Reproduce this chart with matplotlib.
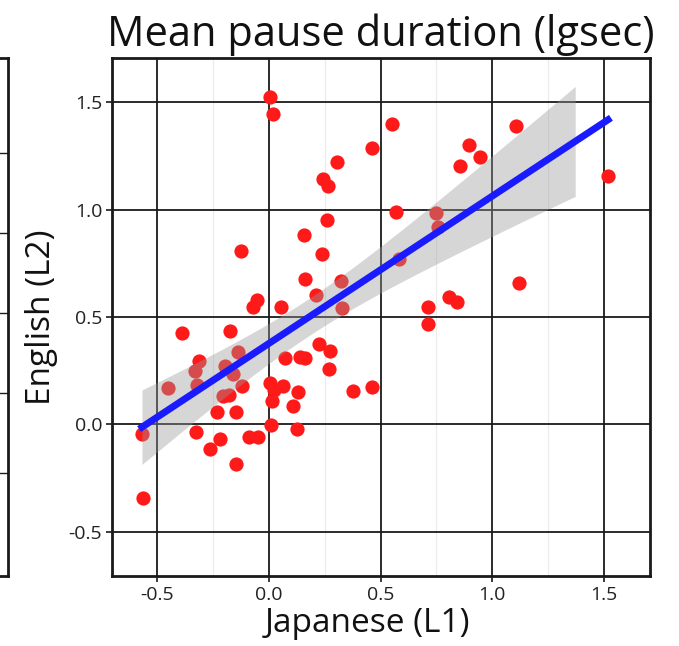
import numpy as np
import matplotlib
matplotlib.use("Agg")
import matplotlib.pyplot as plt
from matplotlib.ticker import MultipleLocator

plt.rcParams['font.family'] = ['Open Sans', 'DejaVu Sans']

# values: Japanese (L1) vs English (L2), lg seconds
japanese = [0.004, 0.020, 0.462, 0.303, 0.243, 0.266, 0.259, 0.155, -0.127, 0.236,
            0.161, 0.321, 0.213, 0.328, 0.054, -0.053, -0.072, 0.549, 1.105, 0.895,
            0.947, 0.855, 1.518, 0.568, 0.746, 0.755, 0.583, 1.120, 0.804, 0.843,
            0.711, 0.711, -0.390, -0.176, -0.139, -0.312, -0.331, -0.195, -0.160, -0.453,
            -0.323, -0.122, -0.205, -0.178, -0.230, -0.145, -0.568, -0.326, -0.219, -0.264,
            -0.145, -0.090, -0.048, -0.562, 0.004, 0.064, 0.022, 0.014, 0.010, 0.072,
            0.140, 0.162, 0.131, 0.106, 0.124, 0.226, 0.273, 0.269, 0.376, 0.463]
english = [1.525, 1.444, 1.287, 1.221, 1.143, 1.111, 0.951, 0.883, 0.808, 0.793,
           0.675, 0.666, 0.600, 0.542, 0.548, 0.580, 0.545, 1.398, 1.390, 1.300,
           1.246, 1.201, 1.156, 0.987, 0.982, 0.920, 0.770, 0.657, 0.594, 0.568,
           0.548, 0.466, 0.424, 0.433, 0.336, 0.297, 0.250, 0.270, 0.233, 0.170,
           0.185, 0.178, 0.133, 0.139, 0.057, 0.057, -0.043, -0.036, -0.066, -0.116,
           -0.186, -0.058, -0.058, -0.343, 0.192, 0.180, 0.160, 0.110, -0.003, 0.308,
           0.313, 0.308, 0.150, 0.088, -0.022, 0.376, 0.343, 0.258, 0.156, 0.175]
ticks = [-0.5, 0.0, 0.5, 1.0, 1.5]
tick_labels = ['-0.5', '0.0', '0.5', '1.0', '1.5']
band_xmax = 1.38  # the grey band stops short of the line in the picture

x = np.array(japanese)
y = np.array(english)

# linear fit and 95% confidence band
n = len(x)
slope, intercept = np.polyfit(x, y, 1)
resid = y - (intercept + slope * x)
s = np.sqrt(np.sum(resid ** 2) / (n - 2))
xm = x.mean()
sxx = np.sum((x - xm) ** 2)
xs = np.linspace(x.min(), x.max(), 200)
ys = intercept + slope * xs
se = s * np.sqrt(1.0 / n + (xs - xm) ** 2 / sxx)
keep = xs <= band_xmax

fig = plt.figure(figsize=(6.79, 6.46), dpi=100)
ax = fig.add_axes([0.165, 0.1084, 0.792, 0.8018])

ax.set_xlim(-0.702, 1.705)
ax.set_ylim(-0.705, 1.705)
ax.xaxis.set_minor_locator(MultipleLocator(0.25))
ax.set_axisbelow(True)
ax.grid(which='major', color='#1a1a1a', linewidth=1.3)
ax.grid(which='minor', axis='x', color='#ebebeb', linewidth=0.8)

ax.scatter(x, y, s=105, color='#ff1a1a', linewidths=0, zorder=2)
ax.fill_between(xs[keep], ys[keep] - 1.994 * se[keep], ys[keep] + 1.994 * se[keep],
                color='#999999', alpha=0.4, linewidth=0, zorder=3)
ax.plot(xs, ys, color='#1a1aff', linewidth=5, zorder=4)

for sp in ax.spines.values():
    sp.set_linewidth(2)
    sp.set_color('#1a1a1a')
ax.set_xticks(ticks)
ax.set_xticklabels(tick_labels)
ax.set_yticks(ticks)
ax.set_yticklabels(tick_labels)
ax.tick_params(which='major', length=4, width=1.2, color='#1a1a1a', labelsize=14,
               labelcolor='#222222', pad=3)
ax.tick_params(which='minor', length=0)

ax.set_title('Mean pause duration (lgsec)', fontsize=30, pad=9, color='#111111')
ax.set_xlabel('Japanese (L1)', fontsize=24, color='#111111')
ax.xaxis.set_label_coords(0.475, -0.06)
ax.xaxis.label.set_verticalalignment('top')
ax.set_ylabel('English (L2)', fontsize=24, labelpad=8, color='#111111')

# edge of the neighbouring panel, cut off at the left
ax2 = fig.add_axes([-0.02, 0.1084, 0.032, 0.8018])
ax2.set_xlim(0, 1)
ax2.set_ylim(0, 1)
for yy in [0.199, 0.353, 0.508, 0.662, 0.817]:
    ax2.axhline(yy, color='#1a1a1a', linewidth=1.0)
ax2.set_xticks([])
ax2.set_yticks([])
for sp in ax2.spines.values():
    sp.set_linewidth(2)
    sp.set_color('#1a1a1a')

fig.savefig('out.png', dpi=100)
